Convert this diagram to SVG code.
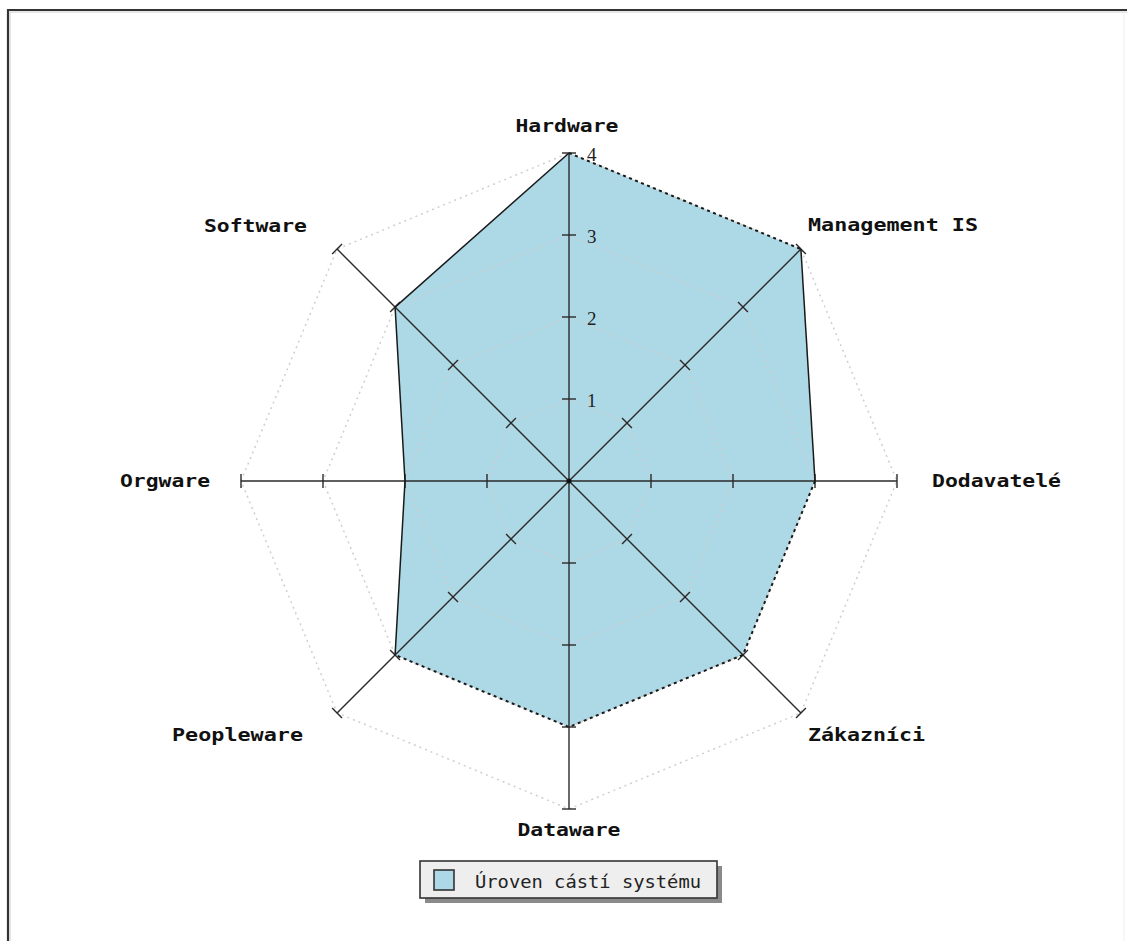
<svg xmlns="http://www.w3.org/2000/svg" xmlns:xlink="http://www.w3.org/1999/xlink" width="1127" height="941" viewBox="0 0 1127 941">
<style>
.grid{fill:none;stroke:#cfcfcf;stroke-width:1.5;stroke-dasharray:2 4}
.axis{stroke:#2a2a2a;stroke-width:1.4;fill:none}
.tick{stroke:#2a2a2a;stroke-width:1.4}
.edge{stroke:#1a1a1a;stroke-width:1.5;fill:none}
.dot{stroke:#1a1a1a;stroke-width:2;fill:none;stroke-dasharray:3 3.5}
.lbl{font-family:"DejaVu Sans Mono","Liberation Mono",monospace;font-weight:bold;font-size:17px;fill:#111}
.num{font-family:"Liberation Serif","DejaVu Serif",serif;font-size:19px;fill:#222}
.leg{font-family:"DejaVu Sans Mono","Liberation Mono",monospace;font-size:17px;fill:#222}
</style>
<defs>
<g id="axisdef">
<line class="axis" x1="569" y1="481" x2="897" y2="481"/>
<line class="tick" x1="651" y1="474" x2="651" y2="488"/>
<line class="tick" x1="733" y1="474" x2="733" y2="488"/>
<line class="tick" x1="815" y1="474" x2="815" y2="488"/>
<line class="tick" x1="897" y1="474" x2="897" y2="488"/>
</g>
</defs>
<rect x="0" y="0" width="1127" height="941" fill="#fff"/>
<path d="M8,941 V10 H1127" fill="none" stroke="#333" stroke-width="2.2"/>
<path d="M10,941 V12 H1127" fill="none" stroke="#ccc" stroke-width="1"/>
<line x1="1124" y1="12" x2="1124" y2="941" stroke="#eee" stroke-width="1"/>

<g id="data-fill">
<polygon points="569,153 800.9,249.1 815,481 742.9,654.9 569,727 395.1,654.9 405,481 395.1,307.1" fill="#add8e6"/>
</g>

<g id="grid">
<polygon class="grid" points="569,399 627,423 651,481 627,539 569,563 511,539 487,481 511,423"/>
<polygon class="grid" points="569,317 685,365 733,481 685,597 569,645 453,597 405,481 453,365"/>
<polygon class="grid" points="569,235 742.9,307.1 815,481 742.9,654.9 569,727 395.1,654.9 323,481 395.1,307.1"/>
<polygon class="grid" points="569,153 800.9,249.1 897,481 800.9,712.9 569,809 337.1,712.9 241,481 337.1,249.1"/>
</g>

<g id="connectors">
<use xlink:href="#axisdef" href="#axisdef" transform="rotate(-90 569 481)"/>
<use xlink:href="#axisdef" href="#axisdef" transform="rotate(-45 569 481)"/>
<use xlink:href="#axisdef" href="#axisdef"/>
<use xlink:href="#axisdef" href="#axisdef" transform="rotate(45 569 481)"/>
<use xlink:href="#axisdef" href="#axisdef" transform="rotate(90 569 481)"/>
<use xlink:href="#axisdef" href="#axisdef" transform="rotate(135 569 481)"/>
<use xlink:href="#axisdef" href="#axisdef" transform="rotate(180 569 481)"/>
<use xlink:href="#axisdef" href="#axisdef" transform="rotate(225 569 481)"/>
<circle cx="569" cy="481" r="2.5" fill="#111"/>
</g>

<g id="data-outline">
<polyline class="edge" points="569,153 395.1,307.1 405,481 395.1,654.9"/>
<line class="edge" x1="800.9" y1="249.1" x2="815" y2="481"/>
<line class="dot" x1="569" y1="153" x2="800.9" y2="249.1"/>
<polyline class="dot" points="815,481 742.9,654.9 569,727 395.1,654.9"/>
</g>

<g id="scale">
<text class="num" x="587" y="161">4</text>
<text class="num" x="587" y="243">3</text>
<text class="num" x="587" y="325">2</text>
<text class="num" x="587" y="407">1</text>
</g>

<g id="node-hardware"><text class="lbl" x="567" y="132" text-anchor="middle" textLength="103" lengthAdjust="spacingAndGlyphs">Hardware</text></g>
<g id="node-management"><text class="lbl" x="808" y="231" textLength="170" lengthAdjust="spacingAndGlyphs">Management IS</text></g>
<g id="node-dodavatele"><text class="lbl" x="932" y="487" textLength="129" lengthAdjust="spacingAndGlyphs">Dodavatelé</text></g>
<g id="node-zakaznici"><text class="lbl" x="808" y="741" textLength="117" lengthAdjust="spacingAndGlyphs">Zákazníci</text></g>
<g id="node-dataware"><text class="lbl" x="569" y="836" text-anchor="middle" textLength="103" lengthAdjust="spacingAndGlyphs">Dataware</text></g>
<g id="node-peopleware"><text class="lbl" x="303" y="741" text-anchor="end" textLength="131" lengthAdjust="spacingAndGlyphs">Peopleware</text></g>
<g id="node-orgware"><text class="lbl" x="210" y="487" text-anchor="end" textLength="90" lengthAdjust="spacingAndGlyphs">Orgware</text></g>
<g id="node-software"><text class="lbl" x="307" y="232" text-anchor="end" textLength="103" lengthAdjust="spacingAndGlyphs">Software</text></g>

<g id="legend">
<rect x="425" y="866" width="297" height="37" fill="#8a8a8a"/>
<rect x="420" y="861" width="297" height="37" fill="#eeeeee" stroke="#333" stroke-width="1.6"/>
<rect x="434" y="870" width="20" height="20" fill="#add8e6" stroke="#333" stroke-width="1.6"/>
<text class="leg" x="475" y="888" textLength="226" lengthAdjust="spacingAndGlyphs">Úroven cástí systému</text>
</g>
</svg>
